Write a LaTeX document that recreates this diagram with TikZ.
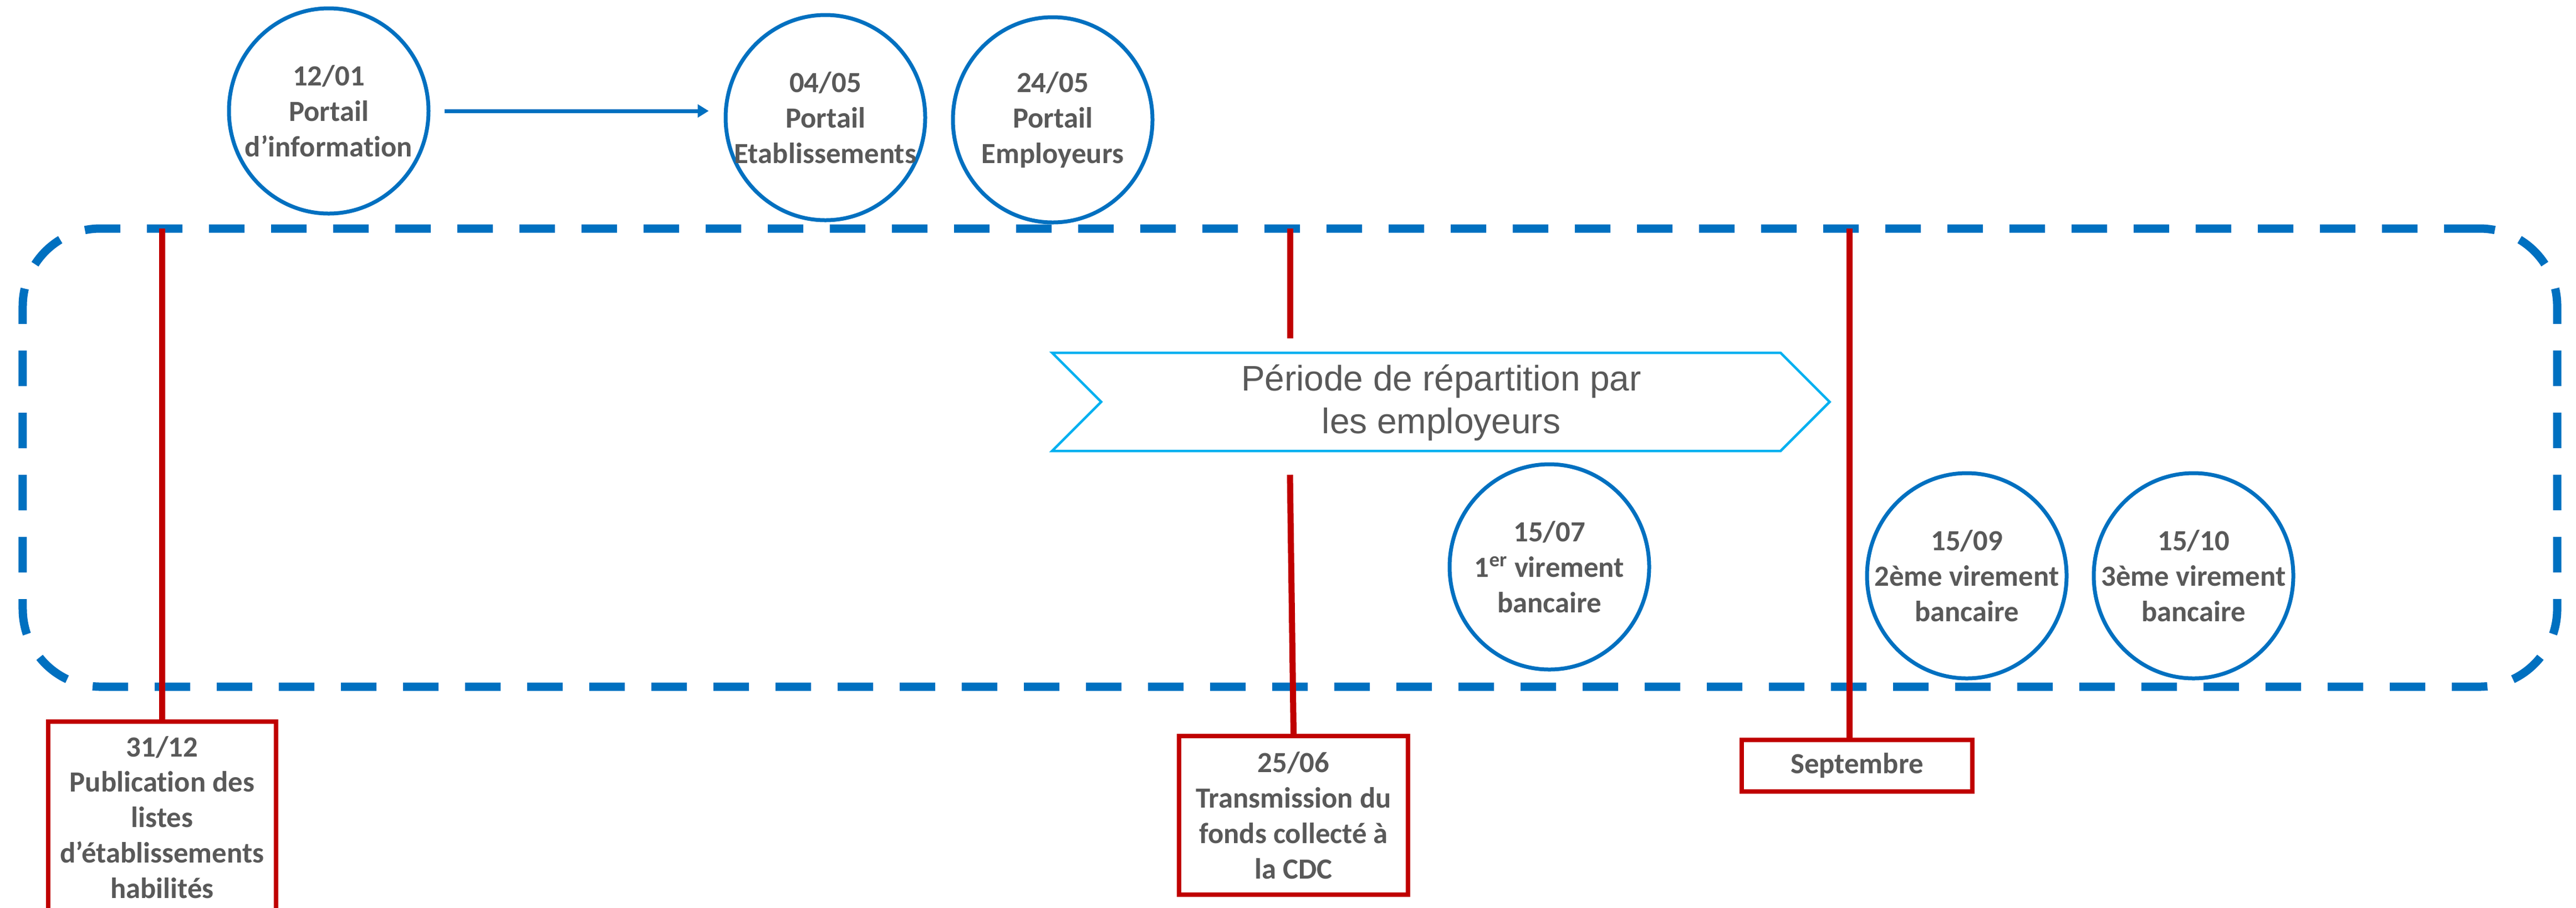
\documentclass[tikz,border=0pt]{standalone}
\usepackage{fontspec}
\setmainfont{Carlito}[Ligatures=NoCommon]
\newfontfamily\arialf{Liberation Sans}
\usetikzlibrary{shapes.geometric,arrows.meta}
\definecolor{cblue}{HTML}{0070C0}
\definecolor{clight}{HTML}{00B0F0}
\definecolor{cred}{HTML}{C00000}
\definecolor{cgrey}{HTML}{595959}
\begin{document}
\begin{tikzpicture}[x=1mm,y=-1mm,
  datecircle/.style={ellipse, draw=cblue, line width=0.7mm, minimum width=36mm, minimum height=37mm, inner sep=0pt},
  ctext/.style={text=cgrey, font=\bfseries\fontsize{15}{18.2}\selectfont, align=center, inner sep=0pt},
  redbox/.style={draw=cred, line width=0.8mm, fill=white, text=cgrey, font=\bfseries\fontsize{15}{18.2}\selectfont, align=center},
  redline/.style={draw=cred, line width=1.1mm},
  framebox/.style={draw=cblue, line width=1.5mm, dash pattern=on 6.4mm off 4.8mm, rounded corners=14mm, inner sep=0pt},
  chevron/.style={draw=clight, line width=0.45mm},
  link/.style={draw=cblue, line width=0.7mm, -{Triangle[length=2mm,width=2.3mm]}},
]
\useasboundingbox (0,0) rectangle (464.7,163.6);
\clip (0,0) rectangle (464.7,163.6);

% dashed frame
\node[framebox, minimum width=457.2mm, minimum height=82.6mm] (frame) at (232.7,82.5) {};

% top circles
\node[datecircle] (c1) at (59.3,20.0) {};
\node[ctext] (t1) at (c1) {12/01\\Portail\\d’information};
\node[datecircle] (c2) at (148.9,21.2) {};
\node[ctext] (t2) at (c2) {04/05\\Portail\\Etablissements};
\node[datecircle] (c3) at (189.9,21.6) {};
\node[ctext] (t3) at (c3) {24/05\\Portail\\Employeurs};
\draw[link, shorten <=2.5mm, shorten >=2.7mm] (c1.east) -- (c1.east -| c2.west);

% chevron
\draw[chevron] (189.8,63.6) -- (321.2,63.6) -- (330.05,72.45) -- (321.2,81.3) -- (189.8,81.3) -- (198.65,72.45) -- cycle;
\node[text=cgrey, font=\arialf\fontsize{18.2}{21.9}\selectfont, align=center] (per) at (260.0,72.6) {Période de répartition par\\les employeurs};

% lower circles
\node[datecircle] (c4) at (279.5,102.2) {};
\node[ctext] (t4) at (c4) {15/07\\1\textsuperscript{er} virement\\bancaire};
\node[datecircle] (c5) at (354.8,103.8) {};
\node[ctext] (t5) at (c5) {15/09\\2ème virement\\bancaire};
\node[datecircle] (c6) at (395.7,103.8) {};
\node[ctext] (t6) at (c6) {15/10\\3ème virement\\bancaire};

% red boxes
\node[redbox, anchor=north, minimum width=41.1mm, inner ysep=2.6mm] (box1) at (29.25,129.7) {31/12\\Publication des\\listes\\d’établissements\\habilités};
\node[redbox, minimum width=41.3mm, minimum height=28.6mm] (box2) at (233.35,147.0) {25/06\\Transmission du\\fonds collecté à\\la CDC};
\node[redbox, minimum width=41.6mm, minimum height=9.3mm] (box3) at (335.0,138.05) {Septembre};

% red lines
\coordinate (r1) at (29.25,41.2);
\coordinate (r2a) at (232.7,41.2);
\coordinate (r2b) at (232.7,61.0);
\coordinate (r2c) at (232.7,85.6);
\coordinate (r3) at (333.6,41.2);
\draw[redline] (r1) -- (box1.north);
\draw[redline] (r2a) -- (r2b);
\draw[redline] (r2c) -- (box2.north);
\draw[redline] (r3) -- (r3 |- box3.north);
\end{tikzpicture}
\end{document}
